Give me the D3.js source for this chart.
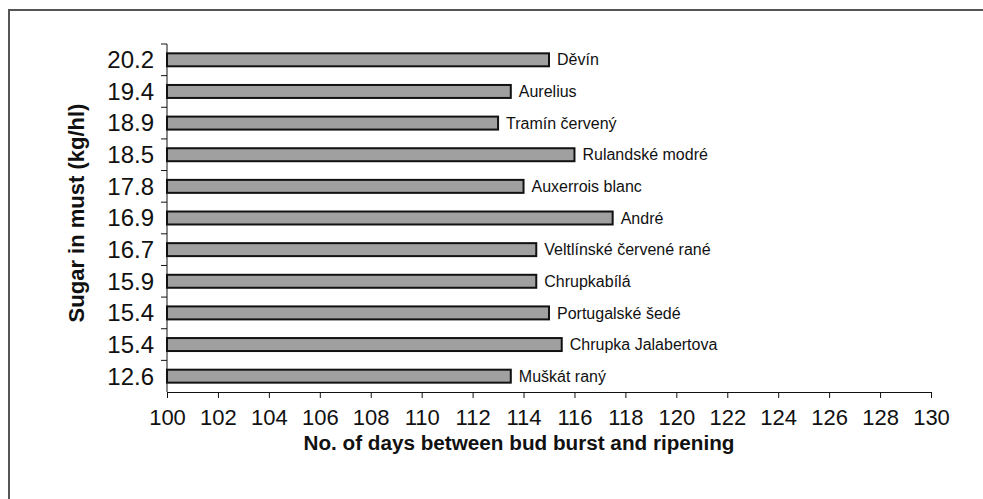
<!DOCTYPE html>
<html>
<head>
  <meta charset="utf-8">
  <script src="https://d3js.org/d3.v7.min.js"></script>
  <style>
    body { margin: 0; background: #fff; }
    text { font-family: Arial, "Liberation Sans", sans-serif; }
  </style>
</head>
<body>
  <script>
    // varieties, top to bottom
    let varieties = ["Děvín", "Aurelius", "Tramín červený", "Rulandské modré", "Auxerrois blanc",
      "André", "Veltlínské červené rané", "Chrupkabílá", "Portugalské šedé",
      "Chrupka Jalabertova", "Muškát raný"];
    // sugar in must (kg/hl), shown as the y tick labels
    let sugar = ["20.2", "19.4", "18.9", "18.5", "17.8", "16.9", "16.7", "15.9", "15.4", "15.4", "12.6"];
    // days between bud burst and ripening
    let days = [115, 113.5, 113, 116, 114, 117.5, 114.5, 114.5, 115, 115.5, 113.5];
    let xTicks = d3.range(100, 131, 2);

    let width = 983;
    let height = 499;
    let margin = {top: 44, right: 52, bottom: 107, left: 167};

    let svg = d3.select("body")
      .append("svg")
      .attr("width", width)
      .attr("height", height);

    // outer frame (runs off the right and bottom edge)
    svg.append("rect")
      .attr("x", 9)
      .attr("y", 10)
      .attr("width", width + 20)
      .attr("height", height + 20)
      .attr("fill", "none")
      .attr("stroke", "#555")
      .attr("stroke-width", 2);

    let x = d3.scaleLinear()
      .domain([100, 130])
      .range([margin.left, width - margin.right]);

    let y = d3.scaleBand()
      .domain(d3.range(varieties.length))
      .range([margin.top, height - margin.bottom])
      .paddingInner(0.59)
      .paddingOuter(0.295);

    let g = svg.append("g");

    // bars
    g.selectAll("rect.bar")
      .data(days)
      .enter()
      .append("rect")
      .attr("class", "bar")
      .attr("x", x(100))
      .attr("y", (d, i) => y(i))
      .attr("width", d => x(d) - x(100))
      .attr("height", y.bandwidth())
      .attr("fill", "#a0a0a0")
      .attr("stroke", "#111")
      .attr("stroke-width", 2);

    // variety labels at bar ends
    g.selectAll("text.lab")
      .data(days)
      .enter()
      .append("text")
      .attr("class", "lab")
      .attr("x", d => x(d) + 8)
      .attr("y", (d, i) => y(i) + y.bandwidth() / 2)
      .attr("dy", "0.35em")
      .attr("font-size", 16)
      .attr("fill", "#111")
      .text((d, i) => varieties[i]);

    // y axis: ticks at band boundaries, labels centered in bands
    let yAxis = svg.append("g");
    let y0 = margin.top;
    let y1 = height - margin.bottom;
    yAxis.append("line")
      .attr("x1", x(100)).attr("x2", x(100))
      .attr("y1", y0).attr("y2", y1)
      .attr("stroke", "#111");
    yAxis.selectAll("line.tk")
      .data(d3.range(varieties.length))
      .enter()
      .append("line")
      .attr("class", "tk")
      .attr("x1", x(100) - 6).attr("x2", x(100))
      .attr("y1", d => y0 + d * (y1 - y0) / varieties.length)
      .attr("y2", d => y0 + d * (y1 - y0) / varieties.length)
      .attr("stroke", "#111");
    yAxis.selectAll("text")
      .data(sugar)
      .enter()
      .append("text")
      .attr("x", x(100) - 13)
      .attr("y", (d, i) => y(i) + y.bandwidth() / 2)
      .attr("dy", "0.35em")
      .attr("text-anchor", "end")
      .attr("font-size", 24)
      .attr("fill", "#111")
      .text(d => d);

    // x axis
    let xAxis = svg.append("g")
      .attr("transform", "translate(0," + y1 + ")")
      .call(d3.axisBottom(x).tickValues(xTicks).tickSize(6).tickPadding(11).tickSizeOuter(0));
    xAxis.select(".domain").attr("stroke", "#111");
    xAxis.selectAll(".tick line").attr("stroke", "#111");
    xAxis.selectAll("text")
      .attr("font-size", 22)
      .attr("font-family", "Arial, 'Liberation Sans', sans-serif")
      .attr("fill", "#111");

    // axis titles
    svg.append("text")
      .attr("x", 519)
      .attr("y", 450)
      .attr("text-anchor", "middle")
      .attr("font-size", 20.7)
      .attr("font-weight", "bold")
      .attr("fill", "#111")
      .text("No. of days between bud burst and ripening");

    svg.append("text")
      .attr("transform", "translate(84,213) rotate(-90)")
      .attr("text-anchor", "middle")
      .attr("font-size", 22)
      .attr("font-weight", "bold")
      .attr("fill", "#111")
      .text("Sugar in must (kg/hl)");
  </script>
</body>
</html>
